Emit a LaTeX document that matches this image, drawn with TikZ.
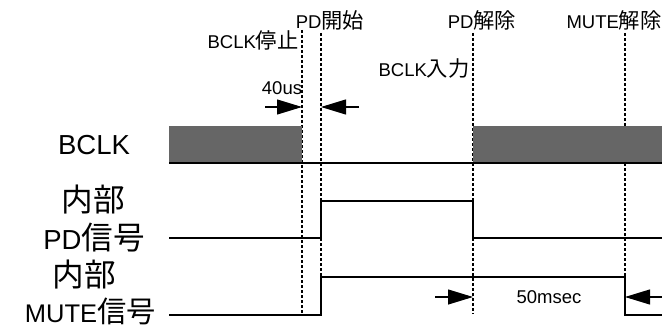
\documentclass[tikz,border=0pt]{standalone}
\usepackage{fontspec}
\setmainfont{Liberation Sans}
\newfontfamily\jp[Scale=1.15]{Noto Sans CJK JP}
\usepackage{tikz}
\usetikzlibrary{arrows.meta}
\usetikzlibrary{positioning}
\definecolor{clkgray}{HTML}{666666}

\begin{document}
\begin{tikzpicture}
	[x=1pt,y=-1pt,
	every node/.style={inner sep=0pt,font=\fontsize{18.5}{18.5}\selectfont},
	big/.style={font=\fontsize{27.5}{27.5}\selectfont},
	wave/.style={line width=1.3pt},
	guide/.style={line width=1.1pt,dash pattern=on 3pt off 2pt},
	tick/.style={line width=1.1pt,-{Triangle[length=25pt,width=15pt]}}]
	\useasboundingbox (0,0) rectangle (662,329);
	
	% timing guides
	\foreach \name/\x/\top in {tstop/302/30, tpd/321/33, trel/473/33, tmute/625/33}
	{
	\coordinate (\name) at (\x,\top);
	\draw[guide] (\x,\top) -- (\x,314);
	}
	
	\node (lstop) at (253,40) {BCLK{\jp 停止}};
	\node (lpd) at (330,20) {PD{\jp 開始}};
	\node (lus) at (282,88) {40us};
	\node (lin) at (424,68) {BCLK{\jp 入力}};
	\node (lrel) at (482,20) {PD{\jp 解除}};
	\node (lmute) at (614,20) {MUTE{\jp 解除}};
	\node (lms) at (549,297) {50msec};
	
	\node[big] (nclk) at (94,145) {BCLK};
	\node[big] (npd1) at (93,200) {\jp 内部};
	\node[big] (npd2) at (94,238) {PD{\jp 信号}};
	\node[big] (nmu1) at (84,275) {\jp 内部};
	\node[big,anchor=east,font=\fontsize{25.5}{25.5}\selectfont] (nmu2) at (156,311) {MUTE{\jp 信号}};
	
	% waveforms
	\fill[clkgray] (169,126) rectangle (302,163);
	\fill[clkgray] (473,126) rectangle (662,163);
	\draw[wave] (169,163) -- (662,163);
	\draw[wave] (169,238) -- (321,238) -- (321,201) -- (473,201) -- (473,238) -- (662,238);
	\draw[wave] (169,315) -- (321,315) -- (321,277) -- (625,277) -- (625,315) -- (662,315);
	
	\coordinate (a40) at (265,107);
	\coordinate (b40) at (359,107);
	\coordinate (a50) at (435,297);
	\coordinate (b50) at (662,297);
	\draw[tick] (a40) -- (tstop |- a40);
	\draw[tick] (b40) -- (tpd |- b40);
	\draw[tick] (a50) -- (trel |- a50);
	\draw[tick] (b50) -- (tmute |- b50);
\end{tikzpicture}
\end{document}
